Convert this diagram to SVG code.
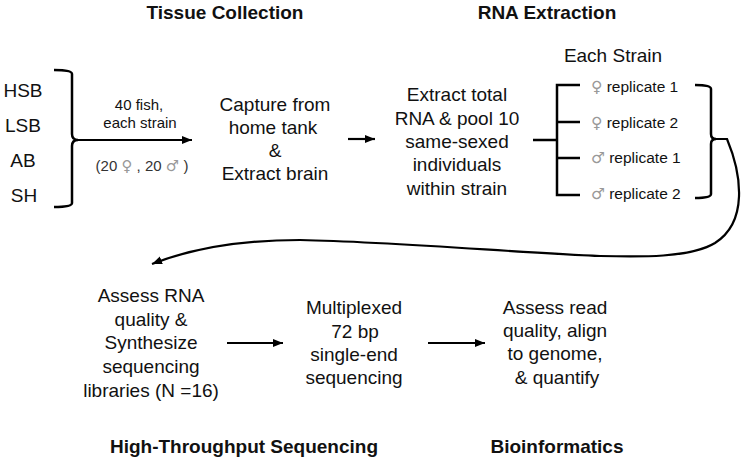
<svg xmlns="http://www.w3.org/2000/svg" width="745" height="462" viewBox="0 0 745 462">
<defs>
<marker id="ah" markerUnits="userSpaceOnUse" markerWidth="12" markerHeight="10" refX="10" refY="4" orient="auto">
<path d="M0,0 L10,4 L0,8 Z" fill="#000"/>
</marker>
<style>
text{font-family:"Liberation Sans","DejaVu Sans",Arial,sans-serif;fill:#111;}
.t{font-size:19px;font-weight:bold;text-anchor:middle;}
.n{font-size:19px;text-anchor:middle;}
.s{font-size:15px;text-anchor:middle;}
.r{font-size:15.5px;}
.g{fill:#999;font-family:"DejaVu Sans",sans-serif;}
.ln{fill:none;stroke:#000;stroke-width:2.5;}
.ar{fill:none;stroke:#000;stroke-width:2.2;marker-end:url(#ah);}
</style>
</defs>
<rect width="745" height="462" fill="#fff"/>

<g id="titles">
<text class="t" x="225" y="19">Tissue Collection</text>
<text class="t" x="547" y="19">RNA Extraction</text>
<text class="t" x="244" y="453">High-Throughput Sequencing</text>
<text class="t" x="557" y="453">Bioinformatics</text>
</g>

<g id="strains">
<text class="n" x="23" y="97">HSB</text>
<text class="n" x="23" y="132">LSB</text>
<text class="n" x="23" y="167">AB</text>
<text class="n" x="24" y="202">SH</text>
</g>

<g id="fish-label">
<text class="s" x="139" y="110">40 fish,</text>
<text class="s" x="140" y="128">each strain</text>
<text class="s" x="142" y="171" style="fill:#333">(20 <tspan class="g">♀</tspan> , 20 <tspan class="g">♂</tspan> )</text>
</g>

<g id="capture">
<text class="n" x="275" y="111">Capture from</text>
<text class="n" x="273" y="134">home tank</text>
<text class="n" x="275" y="157">&amp;</text>
<text class="n" x="275" y="180">Extract brain</text>
</g>

<g id="extract">
<text class="n" x="457" y="101">Extract total</text>
<text class="n" x="457" y="125">RNA &amp; pool 10</text>
<text class="n" x="457" y="148">same-sexed</text>
<text class="n" x="457" y="171">individuals</text>
<text class="n" x="457" y="195">within strain</text>
</g>

<g id="each-strain">
<text class="n" x="613" y="62">Each Strain</text>
<text class="r" x="591" y="92"><tspan class="g">♀</tspan> replicate 1</text>
<text class="r" x="591" y="128"><tspan class="g">♀</tspan> replicate 2</text>
<text class="r" x="591" y="163"><tspan class="g">♂</tspan> replicate 1</text>
<text class="r" x="591" y="199"><tspan class="g">♂</tspan> replicate 2</text>
</g>

<g id="assess-rna">
<text class="n" x="151" y="302">Assess RNA</text>
<text class="n" x="151" y="326">quality &amp;</text>
<text class="n" x="151" y="349">Synthesize</text>
<text class="n" x="151" y="373">sequencing</text>
<text class="n" x="151" y="397">libraries (N =16)</text>
</g>

<g id="multiplexed">
<text class="n" x="354" y="314">Multiplexed</text>
<text class="n" x="355" y="338">72 bp</text>
<text class="n" x="354" y="361">single-end</text>
<text class="n" x="354" y="384">sequencing</text>
</g>

<g id="assess-read">
<text class="n" x="555" y="314">Assess read</text>
<text class="n" x="555" y="337">quality, align</text>
<text class="n" x="555" y="360">to genome,</text>
<text class="n" x="557" y="384">&amp; quantify</text>
</g>

<g id="connectors">
<path class="ln" d="M54 70 Q72 70 72 74 L72 134 Q72 140 78 140 Q72 140 72 146 L72 203 Q72 207 54 207"/>
<path class="ar" d="M78 140 L192 140"/>
<path class="ar" d="M348 139 L375 139"/>
<path class="ln" d="M533 140 L557 140 M580 85 L557 85 L557 195 L580 195 M557 122 L580 122 M557 158 L580 158"/>
<path class="ln" d="M695 85 Q711 85 711 89 L711 134 Q711 139 716 139 Q711 139 711 144 L711 194 Q711 198 695 198"/>
<path class="ar" d="M716 139 L727 139 C742 175 748 222 715 243 C690 258 640 257 600 256 C520 253 400 242 300 240 C240 240 190 249 152 264"/>
<path class="ar" d="M227 343 L283 343"/>
<path class="ar" d="M428 343 L485 343"/>
</g>
</svg>
